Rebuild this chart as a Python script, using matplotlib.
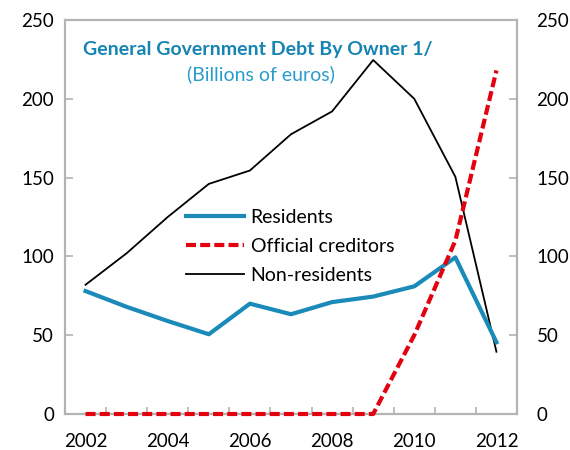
import numpy as np
import matplotlib
matplotlib.use("Agg")
import matplotlib.pyplot as plt

years = [2002, 2003, 2004, 2005, 2006, 2007, 2008, 2009, 2010, 2011, 2012]
residents = [78, 68, 59, 50.6, 70, 63.3, 71, 74.5, 81, 99.4, 45.5]
official = [0, 0, 0, 0, 0, 0, 0, 0, 50, 110, 218]
non_residents = [82, 102, 125, 146, 154.5, 177.5, 192, 224.6, 200, 150.5, 39.5]
tick_years = [2002, 2004, 2006, 2008, 2010, 2012]

plt.rcParams['font.family'] = ['Lato', 'DejaVu Sans']

blue = "#1a8ab8"
red = "#e3000f"
grey = "#b3b3b3"

fig = plt.figure(figsize=(5.7, 4.5), dpi=100)
ax = fig.add_axes([65 / 570, 1 - 414 / 450, 452 / 570, 394 / 450])

x = np.arange(len(years))
ax.plot(x, residents, color=blue, lw=3, label="Residents", zorder=3)
ax.plot(x, official, color=red, lw=3, ls=(0, (2.4, 1.0)), label="Official creditors",
        clip_on=False, zorder=4)
ax.plot(x, non_residents, color="black", lw=1.3, label="Non-residents", zorder=2)

ax.set_xlim(-0.5, len(years) - 0.5)
ax.set_ylim(0, 250)

# category style x axis: labels every other year, ticks at boundaries
ax.set_xticks([years.index(y) for y in tick_years])
ax.set_xticklabels([str(y) for y in tick_years])
ax.set_xticks(np.arange(0.5, len(years) - 1, 1.0), minor=True)
ax.tick_params(axis="x", which="major", length=0, pad=14, labelsize=13.5)
ax.tick_params(axis="x", which="minor", direction="in", length=5, color=grey, width=1.2)

ax.set_yticks(np.arange(0, 251, 50))
ax.tick_params(axis="y", which="major", direction="in", length=6, color=grey, width=1.2,
               labelsize=13.5, pad=8)

# right hand axis repeats the left scale
ax2 = ax.twinx()
ax2.set_ylim(ax.get_ylim())
ax2.set_yticks(np.arange(0, 251, 50))
ax2.tick_params(axis="y", direction="in", length=6, color=grey, width=1.2,
                labelsize=13.5, pad=14)

for a in (ax, ax2):
    for s in a.spines.values():
        s.set_color(grey)
        s.set_linewidth(1.5)
ax.set_zorder(ax2.get_zorder() + 1)
ax.patch.set_visible(False)

ax.text(0.04, 0.926, "General Government Debt By Owner 1/", transform=ax.transAxes,
        fontsize=14, fontweight="bold", color="#1584b3", ha="left", va="center")
ax.text(0.433, 0.862, "(Billions of euros)", transform=ax.transAxes,
        fontsize=14, color="#2a9ccb", ha="center", va="center")

leg = ax.legend(loc="upper left", bbox_to_anchor=(0.228, 0.565), frameon=False,
                fontsize=14, handlelength=3.0, handletextpad=0.35, labelspacing=0.62)

fig.savefig("out.png", dpi=100)
